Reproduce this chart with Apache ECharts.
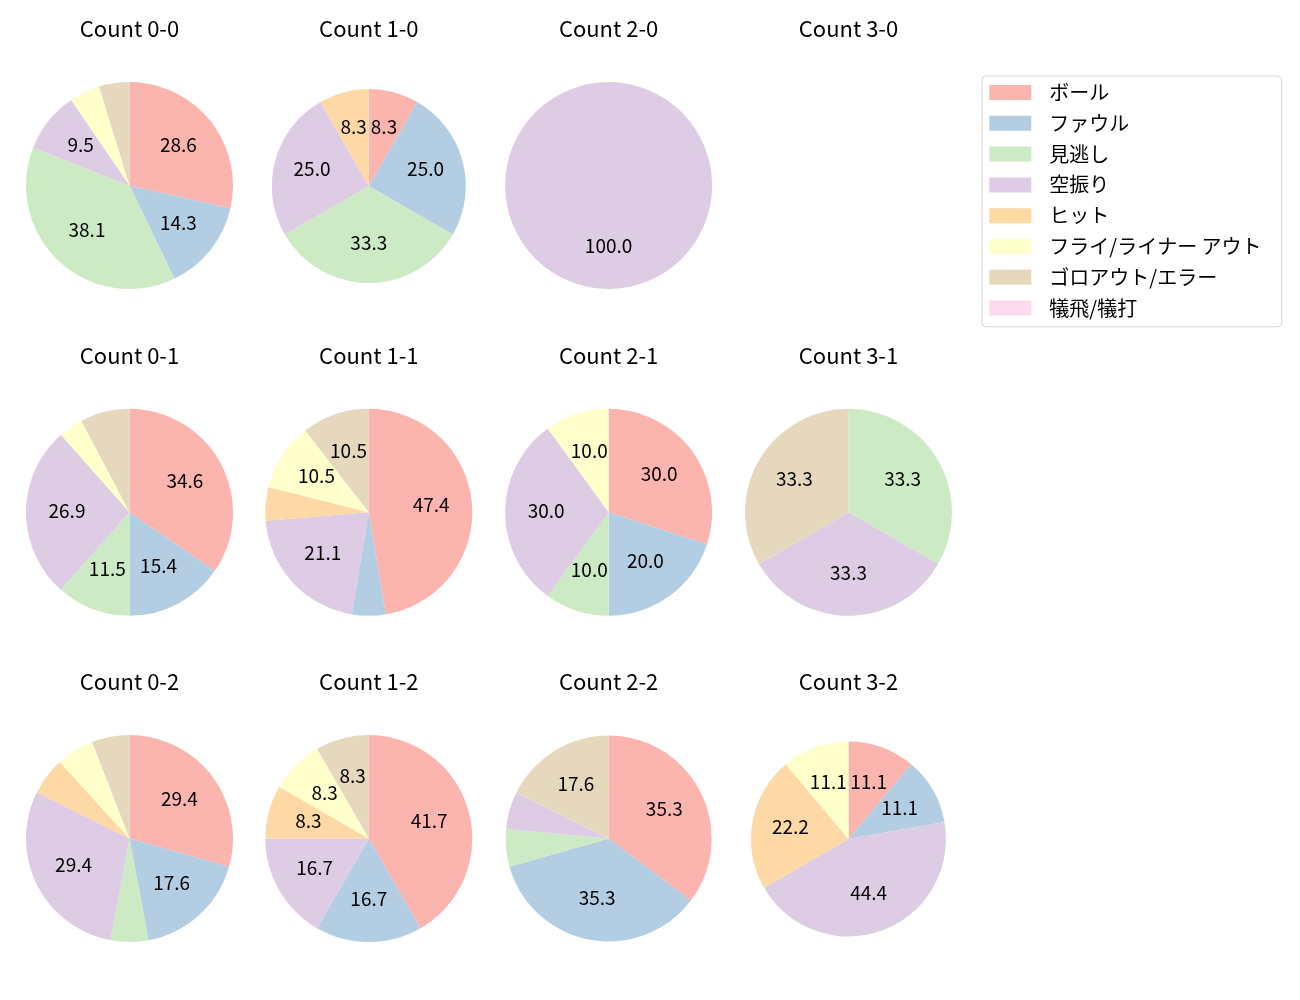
<!DOCTYPE html>
<html><head><meta charset="utf-8">
<script src="https://cdn.jsdelivr.net/npm/echarts@6/dist/echarts.min.js"></script>
<style>html,body{margin:0;padding:0;background:#fff}#c{width:1300px;height:1000px}</style>
</head><body><div id="c"></div>
<script>
// ---- data ----
const categories = ['ボール','ファウル','見逃し','空振り','ヒット','フライ/ライナー アウト','ゴロアウト/エラー','犠飛/犠打'];
const countNames = ['0-0','1-0','2-0','3-0','0-1','1-1','2-1','3-1','0-2','1-2','2-2','3-2'];
const count00 = [6,3,8,2,0,1,1,0];
const count10 = [1,3,4,3,1,0,0,0];
const count20 = [0,0,0,1,0,0,0,0];
const count30 = [];
const count01 = [9,4,3,7,0,1,2,0];
const count11 = [9,1,0,4,1,2,2,0];
const count21 = [3,2,1,3,0,1,0,0];
const count31 = [0,0,1,1,0,0,1,0];
const count02 = [5,3,1,5,1,1,1,0];
const count12 = [5,2,0,2,1,1,1,0];
const count22 = [6,6,1,1,0,0,3,0];
const count32 = [1,1,0,4,2,1,0,0];
const countValues = [count00,count10,count20,count30,count01,count11,count21,count31,count02,count12,count22,count32];

// ---- style / layout ----
const colors = ['#fbb4ae','#b3cde3','#ccebc5','#decbe4','#fed9a6','#ffffcc','#e5d8bd','#fddaec'];
const FONT = '"Noto Sans CJK JP", "Noto Sans", sans-serif';
const colX = [129.5, 368.8, 608.6, 848.5];
const rowY = [185.5, 512.3, 838.5];
const titleTop = [17.5, 344.3, 671];
const radii = [103.5, 97, 103.5, 103.5, 103.5, 103.5, 103.5, 103.5, 103.5, 103.5, 103, 97.5];

const titles = [];
const baseSeries = [];
const labelSeries = [];
countNames.forEach((cn, i) => {
  const col = i % 4, row = Math.floor(i / 4);
  titles.push({
    text: 'Count ' + cn, left: colX[col], top: titleTop[row], textAlign: 'center', padding: 0,
    textStyle: {fontSize: 22, lineHeight: 22, fontWeight: 'normal', color: '#000', fontFamily: FONT}
  });
  const vals = countValues[i];
  if (!vals.length) return;
  const total = vals.reduce((a, b) => a + b, 0);
  const cy = (i === 1 || i === 11) ? rowY[row] + 0.5 : rowY[row];
  const R = radii[i];
  const data = categories.map((c, k) => ({name: c, value: vals[k], itemStyle: {color: colors[k]}}));
  baseSeries.push({
    type: 'pie', center: [colX[col], cy], radius: R, startAngle: 90, clockwise: true,
    data: data, label: {show: false}, labelLine: {show: false},
    itemStyle: {borderWidth: 0}, emphasis: {disabled: true}, animation: false
  });
  labelSeries.push({
    type: 'pie', center: [colX[col], cy], radius: [R * 0.15, R], startAngle: 90, clockwise: true,
    data: categories.map((c, k) => ({name: c, value: vals[k]})),
    itemStyle: {color: 'rgba(0,0,0,0)', borderWidth: 0}, silent: true, legendHoverLink: false,
    emphasis: {disabled: true}, animation: false, labelLine: {show: false},
    label: {
      show: true, position: 'inside', color: '#000', fontSize: 19, fontFamily: FONT,
      textBorderWidth: 0, offset: [0, -2],
      formatter: p => { const pct = p.value / total * 100; return pct > 8 ? pct.toFixed(1) : ''; }
    }
  });
});

const chart = echarts.init(document.getElementById('c'), null, {renderer: 'canvas'});
chart.setOption({
  backgroundColor: '#fff',
  animation: false,
  title: titles,
  legend: {
    data: categories, orient: 'vertical', left: 982, top: 76,
    padding: [6.5, 20, 8.7, 7.3], itemWidth: 42, itemHeight: 15, itemGap: 10.8,
    icon: 'rect', borderColor: '#d5d5d5', borderWidth: 1, borderRadius: 4,
    selectedMode: false,
    textStyle: {fontSize: 20, lineHeight: 20, color: '#000', fontFamily: FONT, padding: [0, 0, 0, 13]}
  },
  series: baseSeries.concat(labelSeries)
});
</script></body></html>
